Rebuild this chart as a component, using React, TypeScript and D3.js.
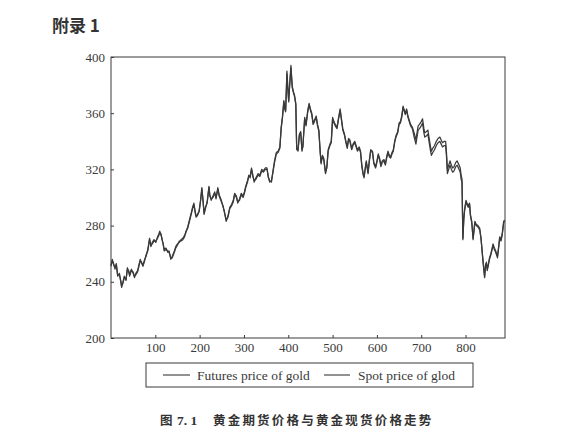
import * as d3 from "d3";
import { useEffect, useRef } from "react";

// trading day index
const days = [
  0, 3, 5, 9, 12, 15, 19, 22, 24, 27,
  30, 34, 37, 40, 42, 46, 50, 53, 56, 60,
  63, 66, 69, 72, 76, 79, 83, 87, 90, 93,
  97, 101, 105, 108, 110, 113, 115, 118, 120, 124,
  128, 131, 135, 138, 143, 146, 150, 154, 158, 162,
  166, 169, 173, 177, 181, 184, 187, 190, 192, 195,
  199, 202, 205, 208, 210, 213, 217, 221, 223, 226,
  230, 234, 237, 241, 244, 249, 253, 256, 260, 264,
  268, 272, 276, 279, 283, 286, 290, 294, 298, 301,
  304, 308, 311, 314, 317, 320, 323, 327, 332, 336,
  340, 344, 348, 352, 355, 358, 362, 366, 369, 373,
  377, 381, 384, 387, 390, 392, 394, 397, 399, 401,
  403, 406, 409, 412, 414, 417, 419, 422, 425, 428,
  431, 433, 437, 440, 444, 447, 450, 453, 456, 459,
  463, 466, 469, 472, 474, 477, 480, 484, 487, 490,
  494, 497, 500, 503, 506, 510, 513, 517, 520, 523,
  527, 530, 533, 536, 539, 543, 546, 550, 553, 556,
  560, 563, 566, 569, 571, 574, 576, 580, 583, 586,
  590, 593, 597, 600, 603, 606, 609, 612, 616, 619,
  622, 625, 628, 631, 634, 637, 640, 643, 647, 650,
  653, 656, 659, 662, 664, 667, 670, 673, 676, 680,
  684, 688, 690, 693, 696, 700, 703, 706, 708, 712,
  715, 718, 721, 723, 726, 730, 734, 738, 742, 745,
  748, 752, 755, 757, 759, 762, 765, 768, 771, 774,
  778, 781, 784, 788, 790, 792, 794, 796, 798, 801,
  803, 806, 809, 811, 814, 817, 819, 821, 824, 828,
  832, 835, 838, 841, 843, 845, 847, 849, 851, 854,
  857, 860, 862, 865, 868, 870, 872, 875, 877, 880,
  883, 886, 888,
];

const futures = [
  252, 256, 253, 250, 253, 244, 246, 240, 236, 240,
  244, 241, 250, 247, 245, 249, 246, 243, 246, 248,
  252, 256, 253, 252, 256, 258, 263, 271, 265, 268,
  270, 268, 272, 274, 276, 273, 271, 266, 263, 264,
  261, 262, 256, 258, 262, 265, 267, 268, 270, 271,
  273, 275, 279, 284, 289, 293, 296, 289, 286, 288,
  290, 298, 307, 296, 289, 293, 296, 308, 302, 298,
  301, 304, 299, 307, 302, 298, 293, 290, 283, 287,
  293, 295, 298, 303, 301, 296, 299, 303, 301, 304,
  308, 312, 316, 314, 321, 316, 311, 314, 317, 316,
  320, 319, 321, 321, 314, 312, 311, 320, 326, 332,
  333, 336, 350, 358, 369, 364, 362, 390, 378, 369,
  380, 394, 379, 375, 373, 367, 335, 333, 345, 347,
  334, 336, 357, 352, 362, 367, 363, 360, 353, 355,
  358, 352, 348, 333, 324, 330, 328, 317, 322, 334,
  338, 340, 357, 354, 352, 350, 356, 363, 356, 349,
  345, 340, 336, 342, 341, 335, 338, 340, 337, 334,
  336, 333, 323, 317, 314, 322, 326, 318, 327, 334,
  333, 325, 322, 326, 331, 328, 323, 326, 327, 324,
  329, 333, 330, 329, 332, 334, 340, 344, 347, 353,
  354, 358, 365, 362, 360, 363, 358, 355, 352, 350,
  346, 341, 345, 351, 352, 354, 356, 349, 346, 347,
  348, 342, 336, 333, 335, 337, 340, 342, 343, 341,
  339, 340, 340, 332, 320, 323, 326, 323, 321, 322,
  325, 326, 324, 321, 316, 313, 271, 285, 292, 298,
  296, 294, 296, 288, 283, 270, 277, 283, 281, 280,
  278, 270, 260, 250, 243, 252, 254, 248, 252, 257,
  260, 264, 267, 264, 262, 260, 257, 266, 272, 270,
  275, 283, 284,
];

const spot = [
  251, 255, 254, 249, 252, 245, 245, 241, 237, 239,
  243, 242, 249, 248, 244, 248, 247, 244, 245, 247,
  251, 255, 254, 251, 255, 259, 262, 270, 266, 267,
  269, 269, 271, 273, 275, 274, 270, 267, 262, 263,
  262, 261, 257, 257, 261, 264, 266, 269, 269, 270,
  272, 276, 278, 283, 288, 292, 295, 290, 287, 287,
  291, 297, 306, 297, 288, 292, 297, 307, 301, 299,
  300, 303, 300, 306, 301, 297, 294, 289, 284, 286,
  292, 294, 297, 302, 300, 297, 298, 302, 300, 303,
  307, 311, 315, 315, 320, 315, 312, 313, 316, 315,
  319, 318, 320, 320, 315, 311, 312, 319, 325, 331,
  332, 335, 349, 357, 368, 363, 361, 388, 377, 368,
  379, 392, 378, 374, 372, 366, 334, 334, 344, 346,
  333, 337, 356, 351, 361, 366, 362, 359, 352, 354,
  357, 351, 347, 332, 325, 329, 327, 318, 321, 333,
  337, 339, 356, 353, 351, 349, 355, 362, 355, 348,
  344, 339, 335, 341, 340, 334, 337, 339, 336, 333,
  335, 332, 322, 316, 315, 321, 325, 317, 326, 333,
  332, 324, 321, 325, 330, 327, 322, 325, 326, 323,
  328, 332, 329, 328, 331, 333, 339, 343, 346, 352,
  353, 357, 364, 361, 359, 362, 357, 354, 351, 349,
  343, 338, 342, 348, 349, 351, 353, 346, 343, 344,
  345, 339, 333, 330, 332, 334, 337, 339, 340, 338,
  336, 337, 337, 329, 317, 320, 323, 320, 318, 319,
  322, 323, 321, 318, 313, 311, 270, 284, 291, 297,
  295, 293, 295, 287, 282, 271, 276, 282, 280, 279,
  277, 271, 259, 249, 244, 251, 253, 249, 251, 256,
  259, 263, 266, 263, 261, 259, 258, 265, 271, 269,
  274, 282, 283,
];

const xTicks = [100, 200, 300, 400, 500, 600, 700, 800];
const yTicks = [200, 240, 280, 320, 360, 400];
const seriesNames = ["Futures price of gold", "Spot price of glod"];

const W = 581;
const H = 438;
const margin = { top: 57, right: 76, bottom: 100, left: 111 };
const ink = "#3a3a3a";
const serif = "'Liberation Serif', 'DejaVu Serif', serif";
const cjk = "'Noto Sans CJK SC', sans-serif";

export default function App() {
  const gxRef = useRef<SVGGElement>(null);
  const gyRef = useRef<SVGGElement>(null);

  const innerW = W - margin.left - margin.right;
  const innerH = H - margin.top - margin.bottom;

  const x = d3.scaleLinear().domain([0, 889]).range([0, innerW]);
  const y = d3.scaleLinear().domain([200, 400]).range([innerH, 0]);

  const line = d3
    .line<number>()
    .x((_, i) => x(days[i]))
    .y((d) => y(d));

  useEffect(() => {
    const gx = d3.select(gxRef.current!);
    gx.call(d3.axisBottom(x).tickValues(xTicks).tickSizeInner(-3).tickSizeOuter(0).tickPadding(5));
    gx.select(".domain").remove();
    gx.selectAll("line").attr("stroke", ink);
    gx.selectAll("text").attr("fill", ink).style("font-family", serif).style("font-size", "13px");

    const gy = d3.select(gyRef.current!);
    gy.call(d3.axisLeft(y).tickValues(yTicks).tickSizeInner(-3).tickSizeOuter(0).tickPadding(6));
    gy.select(".domain").remove();
    gy.selectAll("line").attr("stroke", ink);
    gy.selectAll("text").attr("fill", ink).style("font-family", serif).style("font-size", "13px");
  }, []);

  return (
    <svg width={W} height={H} style={{ position: "absolute", left: 0, top: 0, background: "#fff" }}>
      <text x={52} y={32} fontFamily={cjk} fontWeight={700} fontSize={17} fill="#333">
        附录 1
      </text>
      <g transform={`translate(${margin.left},${margin.top})`}>
        <path d={line(futures) ?? ""} fill="none" stroke={ink} strokeWidth={1.25} strokeLinejoin="round" />
        <path d={line(spot) ?? ""} fill="none" stroke={ink} strokeWidth={1.25} strokeLinejoin="round" />
        <rect x={0} y={0} width={innerW} height={innerH} fill="none" stroke={ink} strokeWidth={1} />
        <g ref={gxRef} transform={`translate(0,${innerH})`} />
        <g ref={gyRef} />
      </g>
      {/* legend */}
      <rect x={146} y={363} width={327} height={24} fill="none" stroke={ink} strokeWidth={1} />
      <line x1={163} x2={190} y1={375} y2={375} stroke={ink} strokeWidth={1.1} />
      <text x={197} y={379.5} fontFamily={serif} fontSize={13.5} fill={ink}>
        {seriesNames[0]}
      </text>
      <line x1={324} x2={350} y1={375} y2={375} stroke={ink} strokeWidth={1.1} />
      <text x={358} y={379.5} fontFamily={serif} fontSize={13.5} fill={ink}>
        {seriesNames[1]}
      </text>
      <text y={424.5} fontFamily={cjk} fontWeight={700} fontSize={12.5} fill="#333">
        <tspan x={160}>图</tspan>
        <tspan x={177} fontFamily={serif} fontSize={13.5}>7. 1</tspan>
        <tspan x={213} letterSpacing={2.2}>黄金期货价格与黄金现货价格走势</tspan>
      </text>
    </svg>
  );
}
